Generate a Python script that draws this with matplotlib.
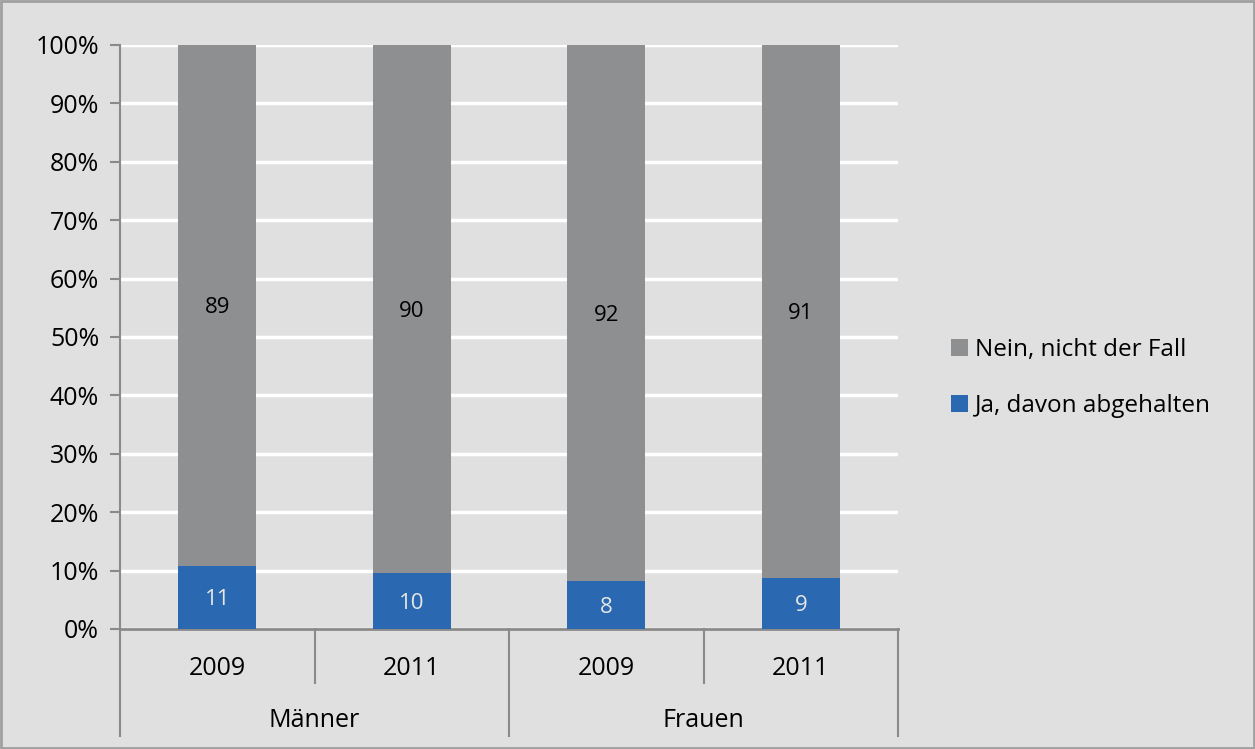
import matplotlib.pyplot as plt
from matplotlib.patches import Rectangle

plt.rcParams['font.family'] = ['Open Sans', 'DejaVu Sans']

years = ["2009", "2011", "2009", "2011"]
groups = ["Männer", "Frauen"]
ja = [10.8, 9.6, 8.2, 8.8]
nein = [89.2, 90.4, 91.8, 91.2]

bg = "#e0e0e0"
grey_bar = "#8e8f91"
blue_bar = "#2a68b1"
axis_col = "#8a8a8a"

fig = plt.figure(figsize=(12.55, 7.49), dpi=100)
fig.patch.set_facecolor(bg)
fig.patches.append(Rectangle((0.001, 0.001), 0.998, 0.997, transform=fig.transFigure,
                             fill=False, edgecolor="#a0a0a0", linewidth=2))

ax = fig.add_axes([120 / 1255, 1 - 629 / 749, 778 / 1255, 584 / 749])
ax.set_facecolor(bg)

x = list(range(len(years)))
b1 = ax.bar(x, ja, width=0.4, color=blue_bar, label="Ja, davon abgehalten", zorder=3)
b2 = ax.bar(x, nein, width=0.4, bottom=ja, color=grey_bar, label="Nein, nicht der Fall", zorder=3)

# value labels, slightly below segment centre like the original
for i in x:
    ax.text(i, ja[i] / 2 - 0.4, f"{ja[i]:.0f}", ha="center", va="center", color="#e6e6e6", fontsize=16, zorder=4)
    ax.text(i, ja[i] + nein[i] / 2 - 0.4, f"{nein[i]:.0f}", ha="center", va="center", color="black", fontsize=16, zorder=4)

ax.set_xlim(-0.5, 3.5)
ax.set_ylim(0, 100)
ax.set_yticks(range(0, 101, 10))
ax.set_yticklabels([f"{v}%" for v in range(0, 101, 10)], fontsize=18)
ax.yaxis.grid(True, color="white", linewidth=2.5, zorder=0)
ax.set_axisbelow(True)
ax.tick_params(axis="y", length=7, width=1.5, color=axis_col, pad=8)
ax.set_xticks([])
for s in ["top", "right"]:
    ax.spines[s].set_visible(False)
ax.spines["left"].set_color(axis_col)
ax.spines["left"].set_linewidth(1.5)
ax.spines["bottom"].set_color(axis_col)
ax.spines["bottom"].set_linewidth(2)

# multi-level category axis
tr = ax.get_xaxis_transform()
for xs in [0.5, 2.5]:
    ax.plot([xs, xs], [0, -0.0925], transform=tr, color=axis_col, lw=1.5, clip_on=False)
for xs in [-0.5, 1.5, 3.5]:
    ax.plot([xs, xs], [0, -0.183], transform=tr, color=axis_col, lw=1.5, clip_on=False)
for i, y in enumerate(years):
    ax.text(i, -0.067, y, transform=tr, ha="center", va="center", fontsize=18)
for g, name in enumerate(groups):
    ax.text(2 * g + 0.5, -0.157, name, transform=tr, ha="center", va="center", fontsize=18)

leg = ax.legend(handles=[b2, b1], loc="center left", bbox_to_anchor=(1.04, 0.43),
                frameon=False, fontsize=17.5, handlelength=0.7, handleheight=0.7,
                handletextpad=0.3, labelspacing=1.3)

fig.savefig("out.png", dpi=100, facecolor=bg)
